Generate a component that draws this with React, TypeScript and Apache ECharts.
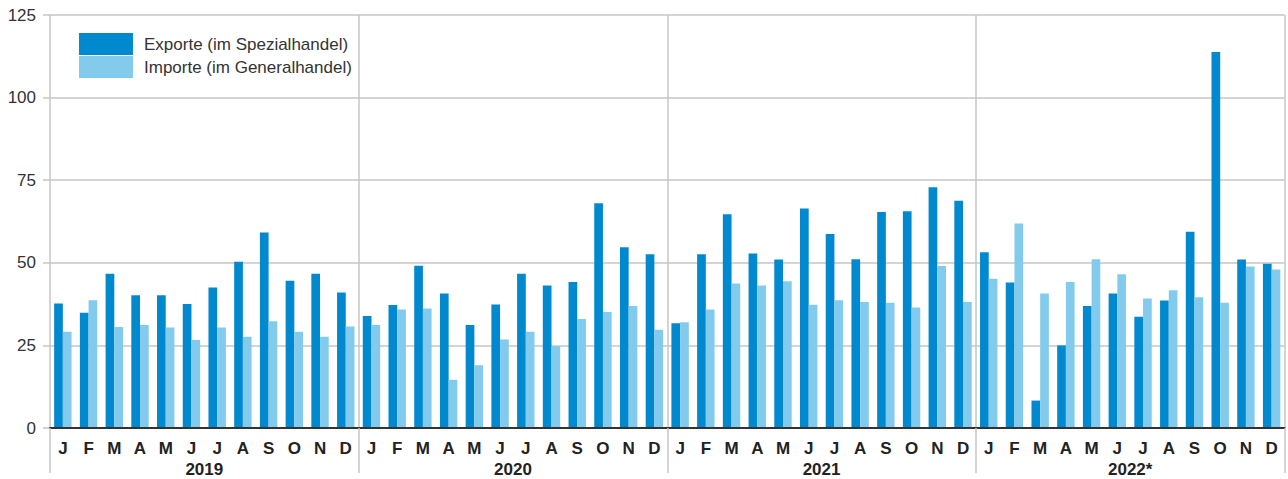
import React, { useEffect, useRef } from "react";
import * as echarts from "echarts";

const monthLetters = ["J", "F", "M", "A", "M", "J", "J", "A", "S", "O", "N", "D"];
const years = ["2019", "2020", "2021", "2022*"];
const categories = years.flatMap((y) => monthLetters.map((m) => m));

const exportsData = [
  37.7, 34.9, 46.7, 40.2, 40.2, 37.5, 42.5, 50.3, 59.2, 44.6, 46.7, 41.0,
  33.9, 37.2, 49.1, 40.7, 31.2, 37.4, 46.7, 43.1, 44.2, 68.0, 54.7, 52.6,
  31.7, 52.6, 64.7, 52.8, 51.0, 66.4, 58.7, 51.1, 65.4, 65.6, 72.9, 68.8,
  53.2, 44.0, 8.3, 25.0, 36.9, 40.7, 33.7, 38.6, 59.4, 113.8, 51.0, 49.7,
];
const importsData = [
  29.1, 38.7, 30.6, 31.2, 30.4, 26.6, 30.4, 27.6, 32.3, 29.1, 27.6, 30.7,
  31.2, 35.9, 36.2, 14.6, 19.0, 26.8, 29.1, 24.8, 33.0, 35.1, 36.9, 29.7,
  32.0, 35.9, 43.7, 43.1, 44.4, 37.3, 38.7, 38.1, 37.9, 36.5, 49.0, 38.1,
  45.2, 61.9, 40.7, 44.2, 51.1, 46.5, 39.2, 41.7, 39.6, 37.9, 48.9, 48.0,
];
const yTicks = [0, 25, 50, 75, 100, 125];

const FONT = "'Liberation Sans', Arial, sans-serif";
const GRID = "#c6c6c6";
const yearStart = (i: number) => i % 12 === 0 && i < categories.length;

export default function App() {
  const ref = useRef<HTMLDivElement>(null);
  useEffect(() => {
    if (!ref.current) return;
    const chart = echarts.init(ref.current, null, { renderer: "svg" });
    chart.setOption({
      animation: false,
      textStyle: { fontFamily: FONT },
      legend: {
        orient: "vertical",
        left: 79,
        top: 33,
        padding: 0,
        itemWidth: 54,
        itemHeight: 22,
        itemGap: 1,
        icon: "rect",
        textStyle: { fontSize: 17, color: "#333", fontFamily: FONT, padding: [0, 0, 0, 6] },
        data: ["Exporte (im Spezialhandel)", "Importe (im Generalhandel)"],
      },
      grid: { left: 50, right: 3.5, top: 15, bottom: 51, containLabel: false },
      xAxis: [
        {
          type: "category",
          data: categories,
          position: "bottom",
          axisLine: { show: true, lineStyle: { color: "#333", width: 2 } },
          axisTick: { show: true, interval: yearStart, length: 45, lineStyle: { color: GRID, width: 1.5 } },
          axisLabel: {
            interval: 0,
            fontSize: 17,
            fontWeight: "bold",
            color: "#222",
            margin: 12,
            fontFamily: FONT,
          },
          splitLine: { show: true, interval: yearStart, lineStyle: { color: GRID, width: 1.5 } },
          z: 5,
        },
        {
          type: "category",
          data: years,
          position: "bottom",
          axisLine: { show: false },
          axisTick: { show: false },
          axisLabel: {
            interval: 0,
            fontSize: 17,
            fontWeight: "bold",
            color: "#222",
            margin: 33,
            fontFamily: FONT,
          },
          splitLine: { show: false },
        },
      ],
      yAxis: {
        type: "value",
        min: yTicks[0],
        max: yTicks[yTicks.length - 1],
        interval: 25,
        axisLine: { show: false },
        axisTick: { show: true, length: 7, lineStyle: { color: GRID, width: 1.5 } },
        axisLabel: { fontSize: 17, color: "#333", margin: 14, fontFamily: FONT },
        splitLine: { show: true, lineStyle: { color: GRID, width: 1.5 } },
      },
      series: [
        {
          name: "Exporte (im Spezialhandel)",
          type: "bar",
          data: exportsData,
          barWidth: 8.7,
          barGap: "0%",
          itemStyle: { color: "#0089cf" },
          xAxisIndex: 0,
        },
        {
          name: "Importe (im Generalhandel)",
          type: "bar",
          data: importsData,
          barWidth: 8.7,
          barGap: "0%",
          itemStyle: { color: "#83cbec" },
          xAxisIndex: 0,
        },
      ],
    });
    return () => chart.dispose();
  }, []);
  return <div ref={ref} style={{ width: 1288, height: 479, position: "absolute", left: 0, top: 0 }} />;
}
